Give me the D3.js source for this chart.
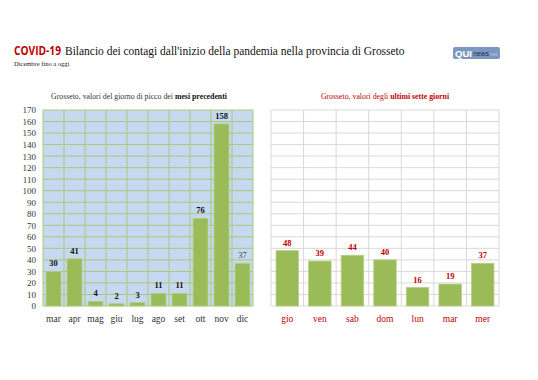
<!DOCTYPE html>
<html><head><meta charset="utf-8">
<script src="https://cdn.jsdelivr.net/npm/d3@7/dist/d3.min.js"></script>
<style>body{margin:0;background:#fff}svg{display:block}</style>
</head><body><svg id="c" width="538" height="380"></svg>
<script>
const monthCats = ["mar","apr","mag","giu","lug","ago","set","ott","nov","dic"];
const monthVals = [30,41,4,2,3,11,11,76,158,37];
const dayCats = ["gio","ven","sab","dom","lun","mar","mer"];
const dayVals = [48,39,44,40,16,19,37];
const yTicks = d3.range(0,171,10);

const svg = d3.select("#c");
const serif = "'Liberation Serif','DejaVu Serif',serif";
const red = "#c00000";
const barFill = "#9bbb59";

// Title
svg.append("text").attr("x",14).attr("y",55).attr("font-family","'Open Sans','Liberation Sans',sans-serif")
  .attr("font-weight","bold").attr("fill",red).attr("font-size",12.5).attr("textLength",47).attr("lengthAdjust","spacingAndGlyphs").text("COVID-19");
const t2 = svg.append("text").attr("x",65).attr("y",55).attr("font-size",13).attr("font-family",serif).attr("fill","#111")
  .text("Bilancio dei contagi dall'inizio della pandemia nella provincia di Grosseto");
const w = t2.node().getComputedTextLength();
t2.attr("font-size", 13*340/w);
svg.append("text").attr("x",14).attr("y",66).attr("font-size",6.5).attr("font-family",serif).attr("fill","#222").text("Dicembre fino a oggi");

// logo
const lg = svg.append("g").attr("transform","translate(453,47)");
lg.append("rect").attr("width",47).attr("height",12).attr("rx",2).attr("fill","#7d98c0");
lg.append("text").attr("x",2).attr("y",10).attr("font-family","'Liberation Sans',sans-serif").attr("font-weight","bold").attr("font-size",9.5).attr("fill","#fff")
  .attr("textLength",17).attr("lengthAdjust","spacingAndGlyphs").text("QUI");
lg.append("text").attr("x",20).attr("y",9).attr("font-family","'Liberation Sans',sans-serif").attr("font-size",6.5).attr("fill","#1d2d55")
  .attr("textLength",16).attr("lengthAdjust","spacingAndGlyphs").text("news");
lg.append("text").attr("x",37).attr("y",9).attr("font-family","'Liberation Sans',sans-serif").attr("font-size",5.5).attr("fill","#b9c8e0").text("net");

const y = d3.scaleLinear().domain([0,170]).range([306,110]);

// LEFT CHART
const xL = d3.scaleBand().domain(monthCats).range([43,253]).paddingInner(0.29).paddingOuter(0.145);
const gL = svg.append("g");
gL.append("rect").attr("x",43).attr("y",y(170)).attr("width",210).attr("height",y(0)-y(170)).attr("fill","#c6d9f1");
gL.selectAll("line.h").data(yTicks).join("line").attr("x1",43).attr("x2",253)
  .attr("y1",d=>y(d)).attr("y2",d=>y(d)).attr("stroke","#a9c97a").attr("stroke-width",1);
const bL = monthCats.map(c=>xL(c)-xL.step()*xL.paddingInner()/2).concat([253]);
gL.selectAll("line.v").data(bL).join("line").attr("x1",d=>d).attr("x2",d=>d)
  .attr("y1",y(170)).attr("y2",y(0)).attr("stroke","#a9c97a").attr("stroke-width",1);
gL.selectAll("rect.bar").data(monthVals).join("rect").attr("class","bar")
  .attr("x",(d,i)=>xL(monthCats[i])).attr("width",xL.bandwidth())
  .attr("y",d=>y(d)).attr("height",d=>y(0)-y(d)).attr("fill",barFill).attr("stroke","#b5cf86").attr("stroke-width",0.8);
gL.selectAll("text.val").data(monthVals).join("text")
  .attr("x",(d,i)=>xL(monthCats[i])+xL.bandwidth()/2).attr("y",d=>y(d)-5)
  .attr("text-anchor","middle").attr("font-family",serif).attr("font-size",8.5)
  .attr("font-weight",(d,i)=>i===9?"normal":"bold").attr("fill",(d,i)=>i===9?"#444":"#111").text(d=>d);
const axL = d3.axisLeft(y).tickValues(yTicks).tickSize(0).tickPadding(7);
const ga = svg.append("g").attr("transform","translate(43,0)").call(axL);
ga.select(".domain").remove();
ga.selectAll("text").attr("font-family",serif).attr("font-size",9).attr("fill","#333");
const gxL = svg.append("g").attr("transform","translate(0,306)").call(d3.axisBottom(xL).tickSize(0).tickPadding(9));
gxL.select(".domain").remove();
gxL.selectAll("text").attr("font-family",serif).attr("font-size",9.5).attr("fill","#333");
const stL = svg.append("text").attr("x",139).attr("y",99).attr("text-anchor","middle").attr("font-family",serif).attr("font-size",7.8).attr("fill","#333");
stL.append("tspan").text("Grosseto, valori del giorno di picco dei ");
stL.append("tspan").attr("font-weight","bold").attr("fill","#111").text("mesi precedenti");

// RIGHT CHART
const xR = d3.scaleBand().domain(dayCats).range([271,499]).paddingInner(0.31).paddingOuter(0.155);
const gR = svg.append("g");
gR.selectAll("line.h").data(yTicks).join("line").attr("x1",271).attr("x2",499)
  .attr("y1",d=>y(d)).attr("y2",d=>y(d)).attr("stroke","#d9d9d9").attr("stroke-width",1);
const bR = dayCats.map(c=>xR(c)-xR.step()*xR.paddingInner()/2).concat([499]);
gR.selectAll("line.v").data(bR).join("line").attr("x1",d=>d).attr("x2",d=>d)
  .attr("y1",y(170)).attr("y2",y(0)).attr("stroke","#d9d9d9").attr("stroke-width",1);
gR.selectAll("rect.bar").data(dayVals).join("rect").attr("class","bar")
  .attr("x",(d,i)=>xR(dayCats[i])).attr("width",xR.bandwidth())
  .attr("y",d=>y(d)).attr("height",d=>y(0)-y(d)).attr("fill",barFill).attr("stroke","#b5cf86").attr("stroke-width",0.8);
gR.selectAll("text.val").data(dayVals).join("text")
  .attr("x",(d,i)=>xR(dayCats[i])+xR.bandwidth()/2).attr("y",d=>y(d)-5)
  .attr("text-anchor","middle").attr("font-family",serif).attr("font-size",8.5)
  .attr("font-weight","bold").attr("fill",red).text(d=>d);
const gxR = svg.append("g").attr("transform","translate(0,306)").call(d3.axisBottom(xR).tickSize(0).tickPadding(9));
gxR.select(".domain").remove();
gxR.selectAll("text").attr("font-family",serif).attr("font-size",9.5).attr("fill",red);
const stR = svg.append("text").attr("x",385).attr("y",99).attr("text-anchor","middle").attr("font-family",serif).attr("font-size",7.8).attr("fill",red);
stR.append("tspan").text("Grosseto, valori degli ");
stR.append("tspan").attr("font-weight","bold").text("ultimi sette giorni");
</script></body></html>
